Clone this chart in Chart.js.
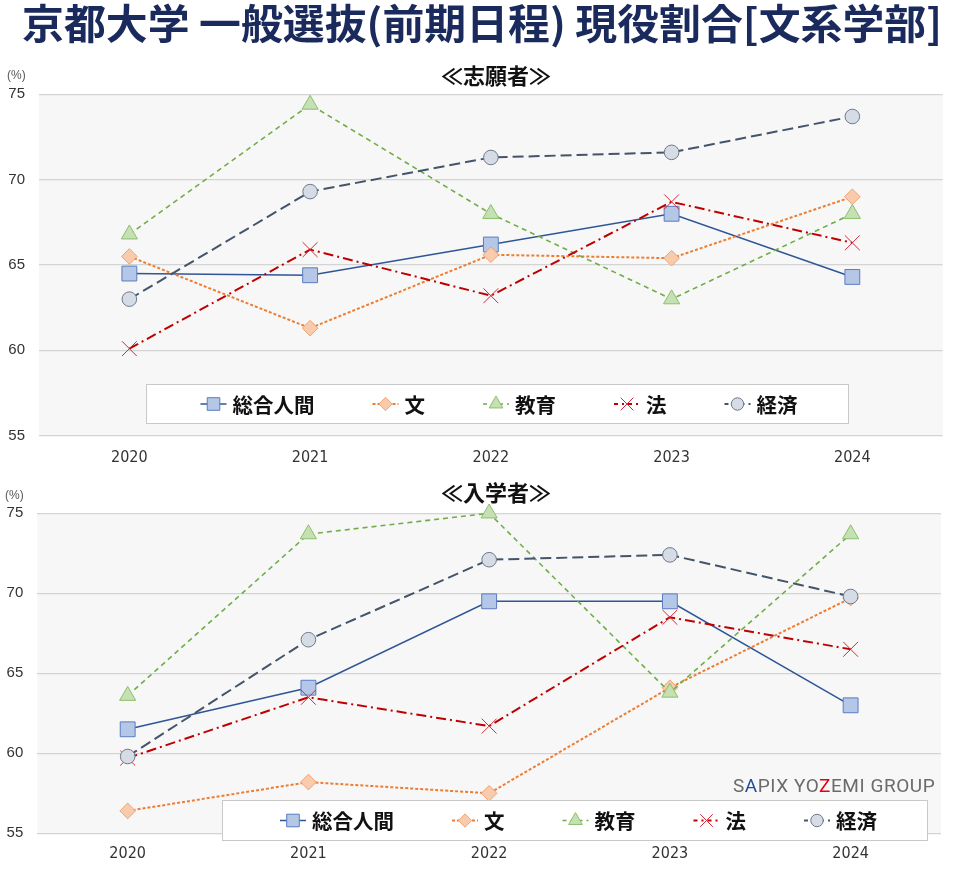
<!DOCTYPE html>
<html><head><meta charset="utf-8">
<script src="https://cdn.jsdelivr.net/npm/chart.js@4.4.1/dist/chart.umd.min.js"></script>
<style>
html,body{margin:0;padding:0;background:#fff;width:960px;height:873px;overflow:hidden;}
body{position:relative;font-family:"Noto Sans CJK JP","Noto Sans",sans-serif;}
#title{position:absolute;left:22px;top:-2px;font-size:41px;line-height:46px;font-weight:700;color:#1b2a5c;white-space:nowrap;transform-origin:left top;z-index:2;}
.sub{position:absolute;left:496px;font-size:22px;line-height:26px;font-weight:700;color:#111;white-space:nowrap;transform:translateX(-50%);z-index:2;}
.pct{position:absolute;font-size:12px;line-height:14px;color:#595959;font-family:"Liberation Sans",Arial,sans-serif;z-index:2;}
#wm{position:absolute;left:733px;top:774px;font-family:Roboto,"Liberation Sans",sans-serif;font-size:19px;line-height:24px;letter-spacing:0.55px;color:#6b6b6b;white-space:nowrap;z-index:2;}
.cw{position:absolute;left:0;width:960px;}
</style></head>
<body>
<div class="cw" style="top:50px;height:420px"><canvas id="c1" width="960" height="420"></canvas></div>
<div class="cw" style="top:470px;height:403px"><canvas id="c2" width="960" height="403"></canvas></div>
<div id="title">京都大学 一般選抜(前期日程) 現役割合[文系学部]</div>
<div class="sub" style="top:60.5px">≪志願者≫</div>
<div class="sub" style="top:477.5px">≪入学者≫</div>
<div class="pct" style="left:7px;top:68px">(%)</div>
<div class="pct" style="left:5px;top:488px">(%)</div>
<div id="wm">S<span style="color:#1f4e9c">A</span>PIX YO<span style="color:#e60012">Z</span>EMI GROUP</div>
<script>
// ---- data ----
const years = ['2020', '2021', '2022', '2023', '2024'];
const seriesNames = ['総合人間', '文', '教育', '法', '経済'];
const yTicks = [55, 60, 65, 70, 75];
// 志願者
const applicantSogo    = [64.5, 64.4, 66.2, 68.0, 64.3];
const applicantBun     = [65.5, 61.3, 65.6, 65.4, 69.0];
const applicantKyoiku  = [66.8, 74.4, 68.0, 63.0, 68.0];
const applicantHo      = [60.1, 65.9, 63.2, 68.7, 66.3];
const applicantKeizai  = [63.0, 69.3, 71.3, 71.6, 73.7];
// 入学者
const enrolleeSogo     = [61.5, 64.1, 69.5, 69.5, 63.0];
const enrolleeBun      = [56.4, 58.2, 57.5, 64.1, 69.7];
const enrolleeKyoiku   = [63.6, 73.7, 75.0, 63.8, 73.7];
const enrolleeHo       = [59.7, 63.5, 61.7, 68.5, 66.5];
const enrolleeKeizai   = [59.8, 67.1, 72.1, 72.4, 69.8];

// ---- styles ----
const styles = [
  {line:'#2f5597', dash:[], width:1.5, ps:'rect', r:10.5, fill:'#b4c7e7', stroke:'#5b7cc0'},
  {line:'#ed7d31', dash:[3,2], width:2, ps:'rectRot', r:7.8, fill:'#f8cbad', stroke:'#f0a372'},
  {line:'#70ad47', dash:[5,4], width:1.6, ps:'triangle', r:9.3, fill:'#c5e0b4', stroke:'#8cc06a'},
  {line:'#c00000', dash:[10,4,2,4], width:2, ps:'crossRot', r:10.5, fill:'#d62839', stroke:'#d62839'},
  {line:'#44546a', dash:[11,5], width:2, ps:'circle', r:7.3, fill:'#d6dce5', stroke:'#6d7a8c'}
];

function makeDatasets(arrs){
  return arrs.map((d,i)=>{
    const s = styles[i];
    return {
      label: seriesNames[i], data: d,
      borderColor: s.line, borderWidth: s.width, borderDash: s.dash,
      backgroundColor: s.fill,
      pointStyle: s.ps, pointRadius: s.r, pointHoverRadius: s.r,
      pointBackgroundColor: s.fill, pointBorderColor: s.stroke, pointBorderWidth: 1,
      tension: 0, fill: false, clip: false,
      order: arrs.length - 1 - i
    };
  });
}

function drawMarker(ctx, s, x, y, r){
  ctx.save();
  ctx.setLineDash([]);
  ctx.lineWidth = 1;
  ctx.fillStyle = s.fill; ctx.strokeStyle = s.stroke;
  ctx.beginPath();
  if (s.ps === 'rect'){ const h = r*Math.SQRT1_2; ctx.rect(x-h, y-h, 2*h, 2*h); ctx.fill(); ctx.stroke(); }
  else if (s.ps === 'rectRot'){ ctx.moveTo(x-r,y); ctx.lineTo(x,y-r); ctx.lineTo(x+r,y); ctx.lineTo(x,y+r); ctx.closePath(); ctx.fill(); ctx.stroke(); }
  else if (s.ps === 'triangle'){ const w = r*Math.sin(Math.PI/3); ctx.moveTo(x, y-r); ctx.lineTo(x+w, y+r/2); ctx.lineTo(x-w, y+r/2); ctx.closePath(); ctx.fill(); ctx.stroke(); }
  else if (s.ps === 'crossRot'){ const h = r*Math.SQRT1_2; ctx.moveTo(x-h,y-h); ctx.lineTo(x+h,y+h); ctx.moveTo(x+h,y-h); ctx.lineTo(x-h,y+h); ctx.stroke(); }
  else { ctx.arc(x,y,r,0,Math.PI*2); ctx.fill(); ctx.stroke(); }
  ctx.restore();
}

const bgPlugin = {
  id: 'plotBg',
  beforeDraw(chart){
    const {ctx, chartArea:a} = chart;
    ctx.save(); ctx.fillStyle = '#f7f7f7';
    ctx.fillRect(a.left, a.top, a.right-a.left, a.bottom-a.top);
    ctx.restore();
  }
};

const boxLegend = {
  id: 'boxLegend',
  afterDraw(chart, args, opts){
    const ctx = chart.ctx;
    ctx.save();
    ctx.fillStyle = '#ffffff'; ctx.strokeStyle = '#c9c9c9'; ctx.lineWidth = 1;
    ctx.fillRect(opts.x, opts.y, opts.w, opts.h);
    ctx.strokeRect(opts.x+0.5, opts.y+0.5, opts.w-1, opts.h-1);
    ctx.font = 'bold 20.5px "Noto Sans CJK JP", sans-serif';
    const seg = 26, gapT = 6, gapI = 58;
    const widths = chart.data.datasets.map(d => ctx.measureText(d.label).width);
    let total = 0;
    widths.forEach((w,i)=>{ total += seg + gapT + w + (i < widths.length-1 ? gapI : 0); });
    let x = opts.x + (opts.w - total)/2 + (opts.shift||0);
    const cy = opts.y + opts.h/2;
    chart.data.datasets.forEach((d,i)=>{
      const s = styles[i];
      ctx.save();
      ctx.strokeStyle = s.line; ctx.lineWidth = s.width; ctx.setLineDash(s.dash.length ? s.dash.map(v=>Math.min(v,4)) : []);
      ctx.beginPath(); ctx.moveTo(x, cy); ctx.lineTo(x+seg, cy); ctx.stroke();
      ctx.restore();
      drawMarker(ctx, s, x+seg/2, cy, s.r*0.85);
      ctx.fillStyle = '#111'; ctx.textBaseline = 'middle'; ctx.textAlign = 'left';
      ctx.fillText(d.label, x+seg+gapT, cy+1);
      x += seg + gapT + widths[i] + gapI;
    });
    ctx.restore();
  }
};

function makeChart(id, arrs, cfg){
  return new Chart(document.getElementById(id), {
    type: 'line',
    data: { labels: years, datasets: makeDatasets(arrs) },
    plugins: [bgPlugin, boxLegend],
    options: {
      responsive: false, animation: false, events: [],
      layout: { padding: { top: cfg.padTop, right: cfg.padRight, bottom: 0, left: 0 } },
      plugins: {
        legend: { display: false }, tooltip: { enabled: false }, title: { display: false },
        boxLegend: cfg.legend
      },
      scales: {
        x: {
          offset: true,
          grid: { display: false, drawTicks: false },
          border: { display: false },
          ticks: { padding: cfg.xPad, color: '#333333', font: { family: '"DejaVu Sans Condensed","Liberation Sans",sans-serif', size: 16, lineHeight: 1 } },
          afterFit: s => { s.height = cfg.xH; }
        },
        y: {
          min: yTicks[0], max: yTicks[yTicks.length-1],
          afterBuildTicks: s => { s.ticks = yTicks.map(v => ({value: v})); },
          grid: { color: '#d4d4d4', lineWidth: 1.3, drawTicks: false },
          border: { display: false },
          ticks: { padding: cfg.yPad, color: '#333333', font: { family: '"Liberation Sans",Arial,sans-serif', size: 15 } },
          afterFit: s => { s.width = cfg.yW; }
        }
      }
    }
  });
}

makeChart('c1', [applicantSogo, applicantBun, applicantKyoiku, applicantHo, applicantKeizai], {
  padTop: 44.3, padRight: 17.3, xH: 34.3, xPad: 14.3, yW: 39, yPad: 14,
  legend: { x: 146, y: 334, w: 703, h: 40, shift: 1.5 }
});
makeChart('c2', [enrolleeSogo, enrolleeBun, enrolleeKyoiku, enrolleeHo, enrolleeKeizai], {
  padTop: 43.3, padRight: 19, xH: 39.7, xPad: 12.7, yW: 37.3, yPad: 14,
  legend: { x: 222, y: 330, w: 706, h: 41, shift: 3.5 }
});

// fit title width to reference span (22px .. 942px)
(function(){
  const t = document.getElementById('title');
  const w = t.getBoundingClientRect().width;
  t.style.transform = 'scaleX(' + (920 / w) + ')';
})();
</script>
</body></html>
